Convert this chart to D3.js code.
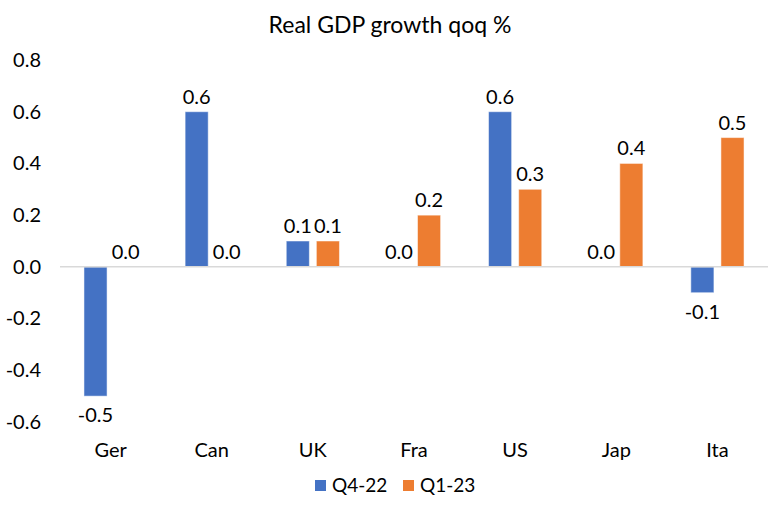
<!DOCTYPE html>
<html>
<head>
<meta charset="utf-8">
<script src="https://cdn.jsdelivr.net/npm/d3@7"></script>
<style>
  body { margin: 0; background: #fff; }
  text { font-family: Lato, "Open Sans", sans-serif; fill: #000; }
</style>
</head>
<body>
<div id="chart"></div>
<script>
(() => {
  const width = 781, height = 508;
  const margin = { top: 60, right: 13, bottom: 86, left: 60 };

  const categories = ["Ger", "Can", "UK", "Fra", "US", "Jap", "Ita"];
  const seriesNames = ["Q4-22", "Q1-23"];
  const q4_22 = [-0.5, 0.6, 0.1, 0.0, 0.6, 0.0, -0.1];
  const q1_23 = [0.0, 0.0, 0.1, 0.2, 0.3, 0.4, 0.5];
  const colors = ["#4472C4", "#ED7D31"];
  const yTicks = [-0.6, -0.4, -0.2, 0.0, 0.2, 0.4, 0.6, 0.8];

  const values = [q4_22, q1_23];
  const data = categories.map((c, i) => ({
    cat: c,
    vals: seriesNames.map((s, j) => ({ series: s, j, value: values[j][i] }))
  }));

  // plain hyphen for negatives, like the original
  const locale = d3.formatLocale({ decimal: ".", thousands: ",", grouping: [3], currency: ["", ""], minus: "-" });
  const fmt = locale.format(".1f");

  const svg = d3.select("#chart")
    .append("svg")
    .attr("width", width)
    .attr("height", height);

  const x0 = d3.scaleBand()
    .domain(categories)
    .range([margin.left, width - margin.right]);

  const bw = x0.bandwidth();
  const x1 = d3.scaleBand()
    .domain(seriesNames)
    .range([bw * 0.237, bw * 0.763])
    .paddingInner(0.233);

  const y = d3.scaleLinear()
    .domain([-0.6, 0.8])
    .range([height - margin.bottom, margin.top]);

  // title
  svg.append("text")
    .attr("x", 390)
    .attr("y", 33)
    .attr("text-anchor", "middle")
    .attr("font-size", "23px")
    .text("Real GDP growth qoq %");

  // y axis labels
  const yAxis = d3.axisLeft(y)
    .tickValues(yTicks)
    .tickFormat(fmt)
    .tickSize(0)
    .tickPadding(0);

  svg.append("g")
    .attr("transform", "translate(41,0)")
    .call(yAxis)
    .call(g => g.select(".domain").remove())
    .call(g => g.selectAll("text")
      .attr("font-size", "20px")
      .attr("font-family", "Lato, 'Open Sans', sans-serif")
      .attr("fill", "#000"));

  // bars
  const groups = svg.selectAll(".grp")
    .data(data)
    .join("g")
    .attr("class", "grp")
    .attr("transform", d => `translate(${x0(d.cat)},0)`);

  groups.selectAll("rect")
    .data(d => d.vals)
    .join("rect")
    .attr("x", d => x1(d.series))
    .attr("width", x1.bandwidth())
    .attr("y", d => y(Math.max(0, d.value)))
    .attr("height", d => Math.abs(y(d.value) - y(0)))
    .attr("fill", d => colors[d.j])
    .attr("stroke", "#fff")
    .attr("stroke-opacity", 0.5)
    .attr("stroke-width", 1);

  // zero line
  svg.append("line")
    .attr("x1", margin.left)
    .attr("x2", width - margin.right)
    .attr("y1", y(0))
    .attr("y2", y(0))
    .attr("stroke", "#d9d9d9")
    .attr("stroke-width", 1.5);

  // value labels
  groups.selectAll(".val")
    .data(d => d.vals)
    .join("text")
    .attr("class", "val")
    .attr("x", d => x1(d.series) + x1.bandwidth() / 2)
    .attr("y", d => d.value < 0 ? y(d.value) + 26 : y(d.value) - 8)
    .attr("text-anchor", "middle")
    .attr("font-size", "20px")
    .text(d => fmt(d.value));

  // category labels
  svg.selectAll(".cat")
    .data(categories)
    .join("text")
    .attr("class", "cat")
    .attr("x", d => x0(d) + bw / 2)
    .attr("y", 457)
    .attr("text-anchor", "middle")
    .attr("font-size", "20px")
    .text(d => d);

  // legend
  const legendX = [315, 403];
  const legend = svg.selectAll(".leg")
    .data(seriesNames)
    .join("g")
    .attr("class", "leg")
    .attr("transform", (d, i) => `translate(${legendX[i]},480)`);

  legend.append("rect")
    .attr("width", 11)
    .attr("height", 11)
    .attr("fill", (d, i) => colors[i]);

  legend.append("text")
    .attr("x", 17)
    .attr("y", 12)
    .attr("font-size", "19px")
    .text(d => d);
})();
</script>
</body>
</html>
